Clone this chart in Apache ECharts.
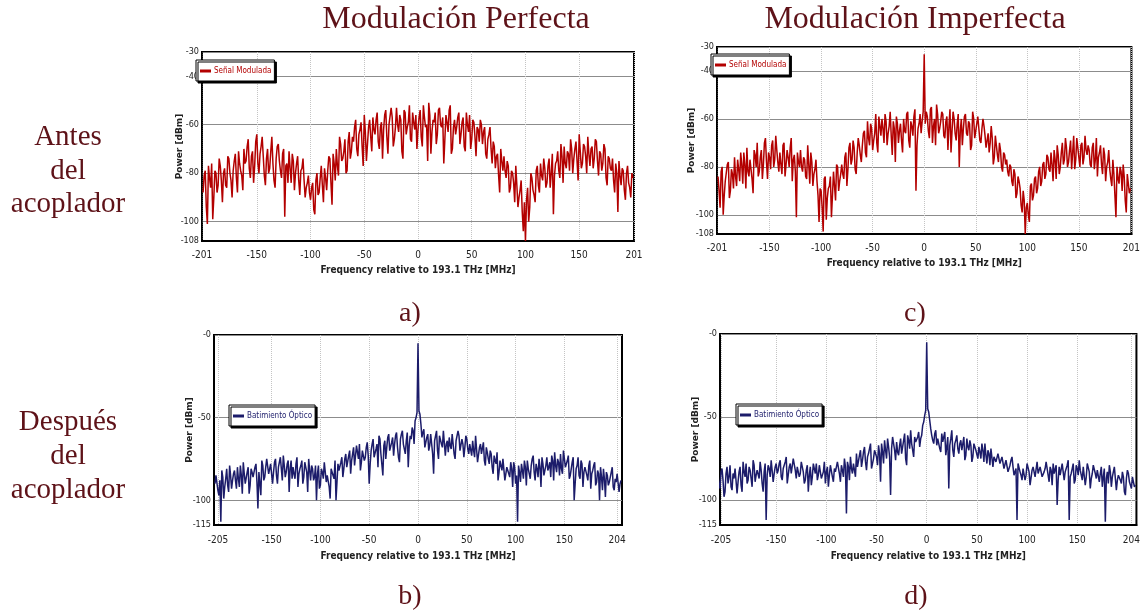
<html>
    <head>
        <meta charset="utf-8">
        <script src="https://cdn.jsdelivr.net/npm/echarts@6/dist/echarts.min.js"></script>
    </head>
    <body>
        <style>
            html, body, #main {
                width: 100%;
                height: 100%;
                margin: 0;
                background: #fff;
            }
        </style>
        <div id="main"></div>
        <script>

        // spectra: "even" arrays start at start, "odd" arrays at start + 1, both every 2 MHz
        var stepMHz = 2;

        // a) Modulacion perfecta, antes del acoplador
        var startA = -200;
        var powerA = [
            -88,-79,-101,-82,-76,-90,-80,-85,-77,-92,
            -78,-86,-74,-83,-79,-72,-88,-76,-81,-70,
            -75,-66,-82,-71,-77,-64,-80,-69,-73,-85,
            -70,-78,-65,-83,-74,-68,-79,-72,-98,-76,
            -71,-84,-75,-80,-73,-89,-78,-83,-86,-81,
            -91,-84,-97,-80,-88,-77,-92,-82,-79,-74,
            -93,-76,-70,-81,-68,-74,-66,-79,-63,-71,
            -67,-58,-73,-62,-69,-56,-75,-61,-65,-57,
            -64,-55,-70,-59,-62,-54,-72,-60,-57,-66,
            -53,-63,-58,-74,-55,-61,-52,-67,-59,-56,
            -62,-54,-69,-57,-60,-51,-72,-58,-55,-64,
            -53,-61,-76,-56,-63,-52,-70,-58,-61,-55,
            -64,-57,-71,-60,-56,-66,-59,-73,-62,-58,
            -68,-61,-74,-64,-70,-67,-78,-72,-88,-75,
            -73,-82,-77,-86,-80,-92,-85,-90,-83,-104,
            -108,-86,-94,-82,-89,-79,-85,-76,-83,-78,
            -84,-74,-80,-97,-76,-71,-82,-73,-69,-78,
            -72,-66,-80,-70,-75,-64,-78,-68,-73,-65,
            -77,-69,-74,-67,-81,-72,-76,-70,-85,-74,
            -79,-83,-76,-96,-81,-78,-87,-80,-84,-90,
            -82
        ];
        var powerAOdd = [
            -81,-94,-77,-86,-99,-79,-88,-74,-83,-80,
            -85,-73,-80,-90,-75,-82,-71,-79,-87,-76,
            -69,-78,-73,-84,-67,-76,-72,-65,-81,-74,
            -80,-71,-76,-86,-69,-75,-82,-70,-77,-84,
            -78,-72,-87,-76,-83,-79,-74,-90,-84,-88,
            -86,-95,-83,-89,-82,-85,-78,-87,-73,-84,
            -72,-83,-77,-65,-75,-71,-80,-67,-74,-65,
            -61,-70,-64,-59,-77,-63,-68,-58,-71,-62,
            -58,-67,-61,-74,-56,-65,-60,-53,-69,-61,
            -60,-56,-71,-54,-64,-59,-66,-55,-62,-70,
            -57,-65,-52,-61,-75,-56,-63,-59,-68,-54,
            -60,-57,-66,-59,-54,-72,-61,-64,-57,-68,
            -59,-69,-55,-63,-70,-58,-65,-61,-67,-60,
            -63,-72,-66,-61,-76,-69,-73,-81,-70,-79,
            -79,-75,-88,-79,-84,-77,-94,-87,-96,-92,
            -91,-100,-80,-87,-92,-77,-88,-81,-74,-86,
            -77,-86,-72,-81,-75,-79,-68,-84,-76,-71,
            -79,-70,-74,-67,-83,-71,-76,-69,-80,-72,
            -70,-78,-66,-75,-71,-79,-68,-82,-73,-78,
            -74,-88,-80,-75,-85,-79,-91,-77,-86,-80
        ];

        // c) Modulacion imperfecta, antes del acoplador
        var startC = -200;
        var powerC = [
            -84,-97,-80,-92,-86,-78,-90,-83,-76,-88,
            -81,-74,-87,-79,-72,-84,-77,-91,-75,-70,
            -82,-73,-79,-68,-85,-76,-71,-80,-67,-78,
            -74,-83,-70,-79,-76,-72,-86,-75,-101,-78,
            -73,-82,-77,-85,-79,-74,-88,-81,-86,-103,
            -90,-107,-84,-93,-88,-101,-82,-94,-80,-86,
            -79,-85,-74,-81,-70,-77,-72,-83,-68,-75,
            -71,-65,-76,-68,-62,-73,-66,-70,-59,-67,
            -64,-58,-71,-63,-67,-61,-78,-62,-65,-69,
            -60,-66,-57,-72,-63,-59,-90,-64,-58,-61,
            -33,-57,-65,-56,-70,-60,-54,-66,-61,-58,
            -68,-59,-63,-74,-57,-66,-62,-80,-60,-64,
            -58,-67,-62,-71,-60,-65,-59,-69,-64,-63,
            -72,-66,-70,-68,-76,-71,-78,-73,-82,-75,
            -77,-84,-80,-88,-83,-91,-86,-96,-90,-108,
            -95,-103,-87,-92,-84,-89,-80,-86,-78,-83,
            -76,-82,-79,-73,-85,-75,-80,-70,-77,-72,
            -78,-69,-74,-81,-68,-76,-71,-79,-67,-75,
            -73,-80,-70,-77,-84,-74,-79,-72,-86,-78,
            -81,-88,-83,-101,-85,-80,-90,-84,-99,-87,
            -89
        ];
        var powerCOdd = [
            -90,-82,-100,-86,-79,-93,-81,-89,-84,-77,
            -86,-79,-74,-89,-82,-77,-85,-73,-80,-84,
            -76,-85,-70,-78,-74,-81,-69,-77,-73,-82,
            -79,-71,-84,-73,-80,-68,-77,-82,-74,-80,
            -80,-76,-84,-71,-87,-78,-83,-77,-92,-89,
            -97,-85,-102,-89,-84,-92,-88,-79,-90,-83,
            -83,-76,-88,-72,-79,-69,-81,-74,-71,-78,
            -66,-74,-61,-71,-64,-69,-58,-74,-63,-60,
            -70,-61,-66,-57,-75,-64,-59,-70,-62,-74,
            -65,-58,-69,-61,-67,-56,-71,-62,-66,-57,
            -62,-59,-68,-55,-63,-71,-58,-64,-57,-67,
            -61,-73,-56,-65,-60,-69,-58,-65,-71,-59,
            -66,-61,-73,-57,-68,-62,-64,-70,-60,-67,
            -69,-74,-63,-79,-67,-75,-70,-80,-74,-79,
            -82,-79,-86,-81,-93,-84,-89,-99,-94,-97,
            -100,-88,-94,-85,-91,-82,-88,-79,-85,-75,
            -81,-74,-86,-77,-71,-83,-74,-79,-68,-80,
            -73,-81,-67,-77,-72,-80,-70,-76,-73,-71,
            -79,-72,-81,-68,-76,-71,-83,-75,-80,-73,
            -85,-77,-92,-80,-87,-82,-79,-94,-83,-91
        ];

        // b) Modulacion perfecta, despues del acoplador
        var startB = -208;
        var powerB = [
            -90,-84,-97,-113,-86,-92,-81,-95,-85,-88,
            -82,-93,-87,-79,-96,-84,-89,-80,-91,-83,
            -86,-78,-105,-82,-76,-88,-80,-74,-85,-79,
            -83,-75,-90,-77,-81,-73,-86,-78,-95,-76,
            -80,-87,-74,-84,-79,-90,-77,-83,-75,-88,
            -81,-86,-100,-79,-91,-83,-77,-89,-84,-99,
            -80,-87,-100,-78,-83,-74,-81,-72,-79,-70,
            -76,-68,-80,-71,-66,-77,-69,-74,-65,-90,
            -70,-63,-75,-66,-61,-72,-85,-64,-68,-60,
            -71,-62,-66,-59,-74,-63,-58,-69,-64,-80,
            -61,-56,-66,-50,-5,-48,-62,-57,-65,-60,
            -67,-59,-84,-63,-70,-61,-66,-58,-73,-64,
            -62,-69,-59,-75,-65,-61,-71,-66,-68,-63,
            -72,-67,-64,-74,-69,-78,-66,-71,-76,-68,
            -75,-70,-80,-73,-78,-88,-76,-82,-74,-84,
            -79,-86,-81,-77,-90,-113,-83,-78,-87,-80,
            -76,-84,-79,-73,-88,-81,-75,-92,-78,-82,
            -74,-80,-86,-76,-71,-83,-77,-72,-84,-75,
            -79,-73,-85,-77,-100,-81,-74,-87,-78,-83,
            -80,-88,-76,-84,-79,-91,-82,-100,-86,-81,
            -98,-85,-89,-83,-92,-87,-84,-95,-88
        ];
        var powerBOdd = [
            -85,-94,-88,-82,-99,-87,-91,-79,-93,-84,
            -88,-80,-92,-85,-77,-90,-83,-96,-81,-86,
            -80,-89,-83,-97,-79,-86,-75,-84,-78,-90,
            -77,-85,-80,-74,-88,-79,-83,-76,-81,-87,
            -84,-78,-92,-81,-76,-86,-80,-95,-82,-79,
            -88,-79,-84,-93,-81,-87,-78,-85,-92,-81,
            -85,-76,-89,-82,-77,-86,-75,-80,-73,-84,
            -72,-79,-67,-75,-82,-70,-76,-68,-73,-78,
            -66,-74,-69,-80,-63,-71,-67,-75,-62,-70,
            -65,-73,-61,-68,-77,-60,-66,-72,-59,-67,
            -63,-58,-52,-47,-46,-54,-59,-68,-62,-70,
            -60,-72,-64,-58,-75,-62,-68,-59,-66,-71,
            -67,-60,-72,-64,-58,-70,-63,-74,-61,-69,
            -66,-73,-70,-61,-77,-68,-72,-65,-79,-71,
            -78,-72,-84,-76,-71,-83,-79,-75,-88,-80,
            -84,-77,-92,-80,-85,-79,-89,-82,-76,-91,
            -81,-87,-75,-83,-78,-86,-80,-74,-85,-79,
            -82,-77,-73,-88,-79,-75,-85,-81,-70,-80,
            -76,-87,-81,-74,-90,-79,-85,-76,-92,-80,
            -85,-79,-93,-82,-77,-89,-84,-80,-94,-87,
            -83,-91,-86,-80,-94,-89,-85,-90
        ];

        // d) Modulacion imperfecta, despues del acoplador
        var startD = -208;
        var powerD = [
            -86,-93,-81,-98,-84,-90,-79,-94,-87,-82,
            -89,-80,-95,-83,-78,-88,-82,-92,-79,-85,
            -81,-77,-90,-83,-112,-79,-86,-75,-84,-78,
            -82,-76,-88,-80,-74,-85,-78,-83,-76,-87,
            -79,-84,-77,-90,-82,-95,-80,-86,-81,-78,
            -85,-80,-88,-77,-83,-92,-79,-86,-81,-84,
            -78,-89,-82,-75,-108,-80,-74,-84,-77,-72,
            -79,-70,-76,-68,-82,-72,-66,-78,-70,-74,
            -67,-89,-71,-64,-75,-68,-97,-62,-70,-65,
            -73,-63,-68,-60,-79,-64,-58,-70,-62,-66,
            -59,-63,-55,-49,-5,-47,-57,-64,-60,-67,
            -62,-71,-65,-59,-68,-93,-63,-70,-66,-61,
            -72,-64,-69,-76,-63,-70,-67,-74,-65,-71,
            -68,-75,-70,-66,-78,-72,-69,-80,-73,-76,
            -71,-79,-74,-82,-77,-84,-76,-80,-86,-112,
            -79,-85,-81,-88,-78,-83,-90,-80,-86,-77,
            -84,-79,-87,-81,-76,-89,-82,-78,-85,-103,
            -80,-86,-77,-83,-79,-112,-84,-78,-88,-81,
            -76,-85,-80,-91,-78,-83,-87,-79,-84,-82,
            -89,-80,-86,-113,-83,-79,-92,-85,-81,-88,
            -84,-90,-86,-97,-82,-89,-93,-85,-91
        ];
        var powerDOdd = [
            -91,-83,-88,-95,-80,-86,-92,-84,-81,-96,
            -83,-91,-77,-86,-90,-80,-87,-76,-89,-82,
            -87,-82,-95,-78,-85,-81,-76,-89,-80,-84,
            -78,-86,-81,-77,-90,-80,-84,-75,-82,-80,
            -86,-77,-83,-88,-79,-85,-91,-78,-84,-88,
            -79,-87,-83,-90,-80,-85,-78,-89,-83,-77,
            -84,-79,-86,-80,-77,-88,-81,-78,-86,-80,
            -73,-80,-71,-77,-74,-69,-81,-75,-72,-79,
            -72,-66,-78,-70,-63,-74,-69,-66,-76,-71,
            -67,-72,-64,-75,-61,-69,-66,-74,-65,-62,
            -68,-61,-53,-46,-45,-52,-61,-66,-58,-63,
            -69,-60,-66,-73,-62,-67,-58,-74,-64,-69,
            -66,-70,-62,-73,-68,-64,-77,-66,-70,-75,
            -71,-66,-77,-73,-70,-79,-68,-74,-77,-72,
            -78,-74,-81,-76,-83,-79,-74,-85,-81,-78,
            -83,-88,-80,-85,-77,-91,-82,-79,-87,-84,
            -80,-86,-83,-77,-85,-80,-91,-84,-79,-88,
            -85,-78,-88,-82,-76,-86,-81,-90,-79,-85,
            -82,-88,-79,-86,-77,-93,-84,-80,-87,-83,
            -84,-92,-81,-87,-90,-83,-86,-80,-94,-85,
            -88,-83,-95,-87,-84,-90,-86,-92
        ];

        // tick labels
        var xTicksTop = [-201, -150, -100, -50, 0, 50, 100, 150, 201];
        var yTicksTop = [-108, -100, -80, -60, -40, -30];
        var xTicksBottom = [-205, -150, -100, -50, 0, 50, 100, 150, 204];
        var yTicksBottom = [-115, -100, -50, 0];

        var xName = 'Frequency relative to 193.1 THz [MHz]';
        var yName = 'Power [dBm]';
        var redName = 'Señal Modulada';
        var blueName = 'Batimiento Óptico';

        // interleave the even and odd samples into [MHz, dBm] pairs
        function pairs(start, even, odd) {
            var out = [];
            for (var i = 0; i < even.length; i++) {
                out.push([start + i * stepMHz, even[i]]);
                if (i < odd.length) {
                    out.push([start + i * stepMHz + 1, odd[i]]);
                }
            }
            return out;
        }

        var narrow = "'Liberation Sans Narrow', 'DejaVu Sans Condensed', sans-serif";
        var serif = "'Liberation Serif', 'DejaVu Serif', serif";
        var maroon = '#5e1218';
        var red = '#b30000';
        var navy = '#1c1c6a';

        function xAxis(grid, min, max, ticks, gap, margin) {
            return {
                type: 'value', gridIndex: grid, min: min, max: max,
                name: xName, nameLocation: 'middle', nameGap: gap, nameMoveOverlap: false,
                nameTextStyle: { fontFamily: narrow, fontSize: 10, fontWeight: 'bold', color: '#222' },
                axisLine: { onZero: false, lineStyle: { color: '#000', width: 2 } },
                axisTick: { show: false, customValues: ticks },
                axisLabel: { customValues: ticks, fontFamily: narrow, fontSize: 10, color: '#222', margin: margin },
                splitLine: { show: true, lineStyle: { color: '#c4c4c4', type: 'dotted' } }
            };
        }

        function yAxis(grid, min, max, ticks, gap, fmt) {
            return {
                type: 'value', gridIndex: grid, min: min, max: max,
                name: yName, nameLocation: 'middle', nameGap: gap, nameMoveOverlap: false,
                nameTextStyle: { fontFamily: 'DejaVu Sans', fontSize: 9, fontWeight: 'bold', color: '#222' },
                axisLine: { onZero: false, lineStyle: { color: '#000', width: 1.5 } },
                axisTick: { show: false, customValues: ticks },
                axisLabel: { customValues: ticks, fontFamily: narrow, fontSize: 9, color: '#222', margin: 3, formatter: fmt },
                splitLine: { show: true, lineStyle: { color: '#8c8c8c', width: 1 } }
            };
        }

        function legend(left, top, name, color) {
            return {
                left: left, top: top, orient: 'vertical',
                data: [name],
                backgroundColor: '#fff', borderColor: '#000', borderWidth: 1,
                shadowColor: '#000', shadowOffsetX: 2, shadowOffsetY: 2, shadowBlur: 0,
                padding: [7, 3, 6, 4],
                icon: 'rect', itemWidth: 11, itemHeight: 3, itemGap: 0,
                textStyle: { fontFamily: narrow, fontSize: 8, color: color, padding: [0, 0, 0, -2] }
            };
        }

        function series(name, grid, data, color) {
            return {
                name: name, type: 'line', xAxisIndex: grid, yAxisIndex: grid,
                data: data, showSymbol: false, symbol: 'none', sampling: null,
                lineStyle: { color: color, width: 1.5 }, itemStyle: { color: color }
            };
        }

        function txt(text, x, y, size, color) {
            return {
                type: 'text', x: x, y: y, silent: true,
                style: { text: text, font: size + 'px ' + serif, fill: color, align: 'center', verticalAlign: 'middle' }
            };
        }

        var frame = { show: true, borderColor: '#000', borderWidth: 2, backgroundColor: '#fff' };
        var zeroAsMinus = function (v) { return v === 0 ? '-0' : v; };

        var chart = echarts.init(document.getElementById('main'));

        chart.setOption({
            animation: false,
            grid: [
                Object.assign({ left: 202, top: 52, width: 432, height: 189 }, frame),
                Object.assign({ left: 214, top: 335, width: 408, height: 190 }, frame),
                Object.assign({ left: 717, top: 47, width: 424, height: 187 }, frame),
                Object.assign({ left: 720, top: 334, width: 417, height: 191 }, frame)
            ],
            xAxis: [
                xAxis(0, -201, 201, xTicksTop, 24, 9),
                xAxis(1, -209, 209, xTicksBottom, 26, 10),
                xAxis(2, -201, 201, xTicksTop, 24, 9),
                xAxis(3, -206, 209, xTicksBottom, 26, 10)
            ],
            yAxis: [
                yAxis(0, -108, -30, yTicksTop, 18),
                yAxis(1, -115, 0, yTicksBottom, 20, zeroAsMinus),
                yAxis(2, -108, -30, yTicksTop, 21),
                yAxis(3, -115, 0, yTicksBottom, 20, zeroAsMinus)
            ],
            legend: [
                legend(196, 60, redName, red),
                legend(229, 405, blueName, navy),
                legend(711, 54, redName, red),
                legend(736, 404, blueName, navy)
            ],
            series: [
                series(redName, 0, pairs(startA, powerA, powerAOdd), red),
                series(blueName, 1, pairs(startB, powerB, powerBOdd), navy),
                series(redName, 2, pairs(startC, powerC, powerCOdd), red),
                series(blueName, 3, pairs(startD, powerD, powerDOdd), navy)
            ],
            graphic: [
                txt('Modulación Perfecta', 456, 20, 32, maroon),
                txt('Modulación Imperfecta', 915, 20, 32, maroon),
                txt('Antes', 68, 137, 29, maroon),
                txt('del', 68, 171, 29, maroon),
                txt('acoplador', 68, 204, 29, maroon),
                txt('Después', 68, 422, 29, maroon),
                txt('del', 68, 456, 29, maroon),
                txt('acoplador', 68, 490, 29, maroon),
                txt('a)', 410, 314, 28, maroon),
                txt('c)', 915, 314, 28, maroon),
                txt('b)', 410, 597, 28, maroon),
                txt('d)', 916, 597, 28, maroon)
            ]
        });

        </script>
    </body>
</html>
